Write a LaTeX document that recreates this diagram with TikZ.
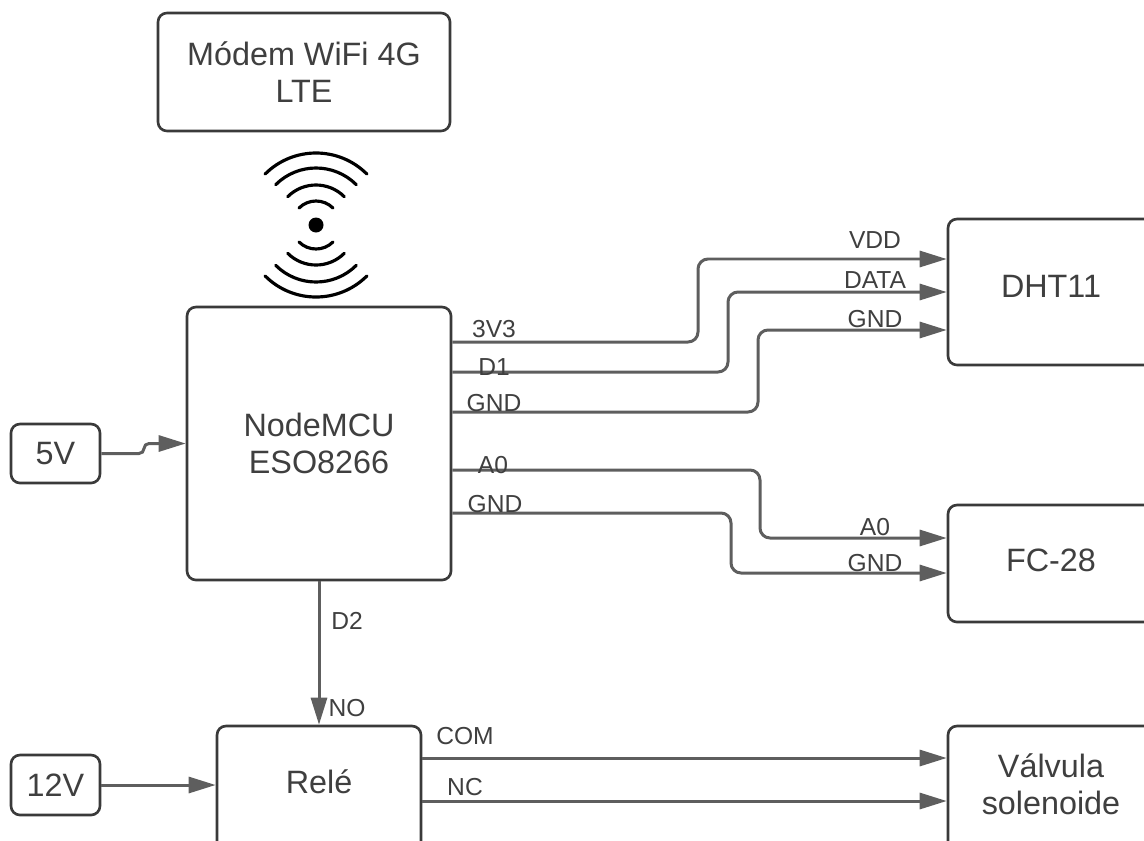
\documentclass[tikz,border=0pt]{standalone}
\usepackage{fontspec}
\setmainfont{Liberation Sans}
\usetikzlibrary{arrows.meta}
\definecolor{wiregray}{HTML}{5E5E5E}
\definecolor{boxgray}{HTML}{3A3A3A}
\definecolor{textgray}{HTML}{3F3F3F}
\tikzset{
  block/.style={draw=boxgray,line width=0.75pt,rounded corners=0.09cm,minimum width=#1,align=center,text=textgray,font=\fontsize{9.2pt}{10.6pt}\selectfont,inner sep=0pt},
  blockname/.style={text=textgray,font=\fontsize{9.2pt}{10.6pt}\selectfont,align=center},
  wire/.style={draw=wiregray,line width=0.85pt,rounded corners=0.1cm,-{Triangle[length=0.27cm,width=0.16cm]}},
  pinlabel/.style={text=textgray,font=\fontsize{7pt}{8pt}\selectfont,inner sep=0pt},
  wave/.style={line width=0.9pt,line cap=round,black}
}

\begin{document}
\begin{tikzpicture}[x=1cm,y=1cm]
  \useasboundingbox (0,-8.4) rectangle (11.44,0);
  % blocks
  \node[block=2.92cm,minimum height=1.18cm] (modem) at (3.04,-0.72) {Módem WiFi 4G\\LTE};
  \node[block=2.64cm,minimum height=2.73cm] (mcu) at (3.19,-4.435) {NodeMCU\\ESO8266};
  \node[block=2.12cm,minimum height=1.46cm] (dht) at (10.54,-2.92) {};
  \node[block=2.12cm,minimum height=1.17cm] (fc) at (10.54,-5.635) {};
  \node[block=2.12cm,minimum height=1.34cm] (valve) at (10.54,-7.93) {};
  \node[block=2.04cm,minimum height=1.34cm] (relay) at (3.19,-7.93) {};
  \node[block=0.89cm,minimum height=0.59cm] (five) at (0.555,-4.535) {5V};
  \node[block=0.89cm,minimum height=0.6cm] (twelve) at (0.555,-7.85) {12V};
  % block texts off the visible centre
  \node[blockname] (dhtname) at (10.51,-2.86) {DHT11};
  \node[blockname] (fcname) at (10.51,-5.6) {FC-28};
  \node[blockname] (valvename) at (10.51,-7.84) {Válvula\\solenoide};
  \node[blockname] (relayname) at (3.19,-7.82) {Relé};
  % wireless
  \node[circle,fill=black,inner sep=0pt,minimum size=0.15cm] (dot) at (3.16,-2.25) {};
  \foreach \radius in {0.24,0.40,0.57,0.72} {
    \draw[wave] ([shift={(45:\radius)}]dot.center) arc (45:135:\radius);
    \draw[wave] ([shift={(225:\radius)}]dot.center) arc (225:315:\radius);
  }
  % wires
  \draw[wire] ([yshift=1.015cm]mcu.east) -- (6.98,-3.42) |- ([yshift=0.33cm]dht.west);
  \draw[wire] ([yshift=0.715cm]mcu.east) -- (7.28,-3.72) |- (dht.west);
  \draw[wire] ([yshift=0.315cm]mcu.east) -- (7.58,-4.12) |- ([yshift=-0.38cm]dht.west);
  \draw[wire] ([yshift=-0.265cm]mcu.east) -- (7.6,-4.7) |- ([yshift=0.255cm]fc.west);
  \draw[wire] ([yshift=-0.695cm]mcu.east) -- (7.31,-5.13) |- ([yshift=-0.095cm]fc.west);
  \draw[wire] (mcu.south) -- (mcu.south |- relay.north);
  \draw[wire] ([yshift=0.35cm]relay.east) -- ([yshift=0.35cm]valve.west);
  \draw[wire] ([yshift=-0.08cm]relay.east) -- ([yshift=-0.08cm]valve.west);
  \draw[wire,rounded corners=0.05cm] (five.east) -- (1.44,-4.535) |- (mcu.west);
  \draw[wire] (twelve.east) -- (relay.west |- twelve.east);
  % pin labels
  \node[pinlabel] (pinA) at (4.94,-3.29) {3V3};
  \node[pinlabel] (pinB) at (4.94,-3.67) {D1};
  \node[pinlabel] (pinC) at (4.94,-4.03) {GND};
  \node[pinlabel] (pinD) at (4.93,-4.65) {A0};
  \node[pinlabel] (pinE) at (4.95,-5.04) {GND};
  \node[pinlabel] (pinF) at (8.75,-2.4) {VDD};
  \node[pinlabel] (pinG) at (8.75,-2.8) {DATA};
  \node[pinlabel] (pinH) at (8.75,-3.19) {GND};
  \node[pinlabel] (pinI) at (8.75,-5.27) {A0};
  \node[pinlabel] (pinJ) at (8.75,-5.63) {GND};
  \node[pinlabel] (pinK) at (3.47,-6.21) {D2};
  \node[pinlabel] (pinL) at (3.47,-7.08) {NO};
  \node[pinlabel] (pinM) at (4.65,-7.36) {COM};
  \node[pinlabel] (pinN) at (4.65,-7.87) {NC};
\end{tikzpicture}
\end{document}
